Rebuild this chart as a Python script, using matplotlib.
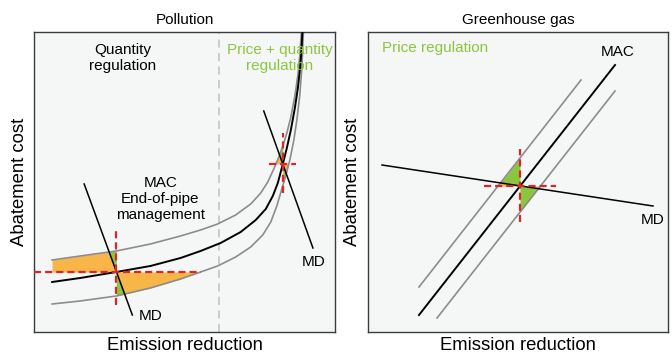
#!/usr/bin/env python3
"""
abatement_regulation.py

Marginal abatement cost (MAC) vs marginal damage (MD) schematic:
pollution (quantity / price+quantity regulation) and greenhouse gas
(price regulation).
"""

import matplotlib
matplotlib.use('Agg')
import matplotlib.pyplot as plt
import numpy as np

plt.rcParams['font.family'] = ['Liberation Sans', 'DejaVu Sans']

# ---- Pollution: MAC curve and its uncertainty band (emission reduction, cost)
mac_x = [18, 46, 82, 116, 146, 166, 186, 206, 221, 231, 238, 243, 248, 252,
         256, 260, 263, 265, 266.5, 267.5]
mac_y = [50, 54, 60, 66, 74, 81, 89, 100, 112, 123, 136, 149, 168, 184,
         202, 224, 244, 262, 280, 300]

mac_hi_x = [18, 46, 82, 116, 146, 166, 183, 201, 216, 226, 233, 239, 244,
            248, 252, 256, 260, 263, 265, 266.5]
mac_hi_y = [72, 76, 81, 88, 96, 102, 108, 117, 128, 139, 150, 163, 175,
            186, 199, 215, 236, 257, 277, 300]

mac_lo_x = [18, 46, 82, 116, 146, 166, 183, 201, 216, 228, 236, 242, 247,
            251, 255, 259, 262, 265, 267, 268.5]
mac_lo_y = [28, 31, 36, 44, 53, 60, 66, 75, 85, 97, 110, 126, 143,
            157, 172, 192, 212, 238, 265, 300]

# end-of-pipe MD line and the steeper MD line further up the curve
md1_x = [50, 98]
md1_y = [148, 17]
md2_x = [229, 278]
md2_y = [221, 84]

# optimum (quantity, price) and extent of the dashed guide lines
opt1 = (82, 60)
opt1_hspan = [0, 166]
opt1_vspan = [27, 101]
opt2 = (248, 168)
opt2_hspan = [234, 261]
opt2_vspan = [139, 199]

regime_split = 184

# ---- Greenhouse gas: straight MAC band and flat MD
ghg_mac_x = [51, 247]
ghg_mac_y = [17, 267]
ghg_hi_x = [51, 213]
ghg_hi_y = [45, 252]
ghg_lo_x = [69, 247]
ghg_lo_y = [14, 241]
ghg_md_x = [14, 285]
ghg_md_y = [167, 126]

ghg_opt = (152, 146)
ghg_hspan = [116, 188]
ghg_vspan = [110, 183]

ORANGE = '#f8b548'
GREEN = '#8cc63f'
RED = '#d9262b'
GREY = '#8c8c8c'
BG = '#f5f7f6'


def shade_wedges(ax, x0, x1, cx, cy, mdx, mdy, price, above):
    """Shade the loss wedges between price line, MD line and one MAC bound.

    Orange lies between the price line and MD, green between MD and the
    quantity line; both are cut off by the MAC bound (cx, cy).
    """
    xs = np.linspace(x0, x1, 400)
    cv = np.interp(xs, cx, cy)
    md = np.interp(xs, mdx, mdy)
    if above:
        top = np.minimum(cv, md)
        ax.fill_between(xs, price, top, where=top > price, interpolate=True,
                        color=ORANGE, lw=0, zorder=1)
        low = np.maximum(md, price)
        ax.fill_between(xs, low, cv, where=cv > low, interpolate=True,
                        color=GREEN, lw=0, zorder=1)
    else:
        bot = np.maximum(cv, md)
        ax.fill_between(xs, bot, price, where=bot < price, interpolate=True,
                        color=ORANGE, lw=0, zorder=1)
        high = np.minimum(md, price)
        ax.fill_between(xs, cv, high, where=high > cv, interpolate=True,
                        color=GREEN, lw=0, zorder=1)


def guides(ax, opt, hspan, vspan):
    kw = dict(color=RED, lw=1.6, dashes=(3.2, 1.8), zorder=4)
    ax.plot(hspan, [opt[1], opt[1]], **kw)
    ax.plot([opt[0], opt[0]], vspan, **kw)


def style_axes(ax, title, ylab_x):
    ax.set_xlim(0, 300)
    ax.set_ylim(0, 300)
    ax.set_facecolor(BG)
    ax.set_xticks([])
    ax.set_yticks([])
    for s in ax.spines.values():
        s.set_color('#3c3c3c')
        s.set_linewidth(1.0)
    ax.text(0.5, 1.04, title, transform=ax.transAxes, ha='center',
            va='center', fontsize=11)
    ax.text(0.5, -0.045, 'Emission reduction', transform=ax.transAxes,
            ha='center', va='center', fontsize=13.3)
    ax.text(ylab_x, 0.5, 'Abatement cost', transform=ax.transAxes,
            ha='center', va='center', rotation=90, fontsize=13.3)


fig = plt.figure(figsize=(6.72, 3.55), dpi=100)
ax1 = fig.add_axes([34 / 672, 23 / 355, 301 / 672, 300 / 355])
ax2 = fig.add_axes([368 / 672, 23 / 355, 300 / 672, 300 / 355])

# ---------------- Pollution
style_axes(ax1, 'Pollution', -0.047)
ax1.axvline(regime_split, color='#c8c8c8', lw=1.3, dashes=(4.5, 3), zorder=1)

shade_wedges(ax1, 18, opt1[0], mac_hi_x, mac_hi_y, md1_x, md1_y, opt1[1], True)
shade_wedges(ax1, opt1[0], 170, mac_lo_x, mac_lo_y, md1_x, md1_y, opt1[1], False)
shade_wedges(ax1, 234, opt2[0], mac_hi_x, mac_hi_y, md2_x, md2_y, opt2[1], True)
shade_wedges(ax1, opt2[0], 260, mac_lo_x, mac_lo_y, md2_x, md2_y, opt2[1], False)

ax1.plot(mac_hi_x, mac_hi_y, color=GREY, lw=1.2, zorder=2)
ax1.plot(mac_lo_x, mac_lo_y, color=GREY, lw=1.2, zorder=2)
ax1.plot(mac_x, mac_y, color='black', lw=1.4, zorder=3)
ax1.plot(md1_x, md1_y, color='black', lw=1.1, zorder=3)
ax1.plot(md2_x, md2_y, color='black', lw=1.1, zorder=3)

guides(ax1, opt1, opt1_hspan, opt1_vspan)
guides(ax1, opt2, opt2_hspan, opt2_vspan)

ax1.text(88, 274, 'Quantity\nregulation', ha='center', va='center',
         fontsize=11, linespacing=1.2)
ax1.text(245, 274, 'Price + quantity\nregulation', ha='center',
         va='center', fontsize=11, color=GREEN, linespacing=1.2)
ax1.text(126, 133, 'MAC\nEnd-of-pipe\nmanagement', ha='center',
         va='center', fontsize=11, linespacing=1.2)
ax1.text(116, 16, 'MD', ha='center', va='center', fontsize=11)
ax1.text(279, 70, 'MD', ha='center', va='center', fontsize=11)

# ---------------- Greenhouse gas
style_axes(ax2, 'Greenhouse gas', -0.053)

shade_wedges(ax2, 120, ghg_opt[0], ghg_hi_x, ghg_hi_y, ghg_md_x, ghg_md_y,
             ghg_opt[1], True)
shade_wedges(ax2, ghg_opt[0], 185, ghg_lo_x, ghg_lo_y, ghg_md_x, ghg_md_y,
             ghg_opt[1], False)

ax2.plot(ghg_hi_x, ghg_hi_y, color=GREY, lw=1.2, zorder=2)
ax2.plot(ghg_lo_x, ghg_lo_y, color=GREY, lw=1.2, zorder=2)
ax2.plot(ghg_mac_x, ghg_mac_y, color='black', lw=1.4, zorder=3)
ax2.plot(ghg_md_x, ghg_md_y, color='black', lw=1.1, zorder=3)

guides(ax2, ghg_opt, ghg_hspan, ghg_vspan)

ax2.text(14, 284, 'Price regulation', ha='left', va='center', fontsize=11,
         color=GREEN)
ax2.text(250, 280, 'MAC', ha='center', va='center', fontsize=11)
ax2.text(285, 112, 'MD', ha='center', va='center', fontsize=11)

plt.savefig('out.png', dpi=100)
plt.close(fig)
